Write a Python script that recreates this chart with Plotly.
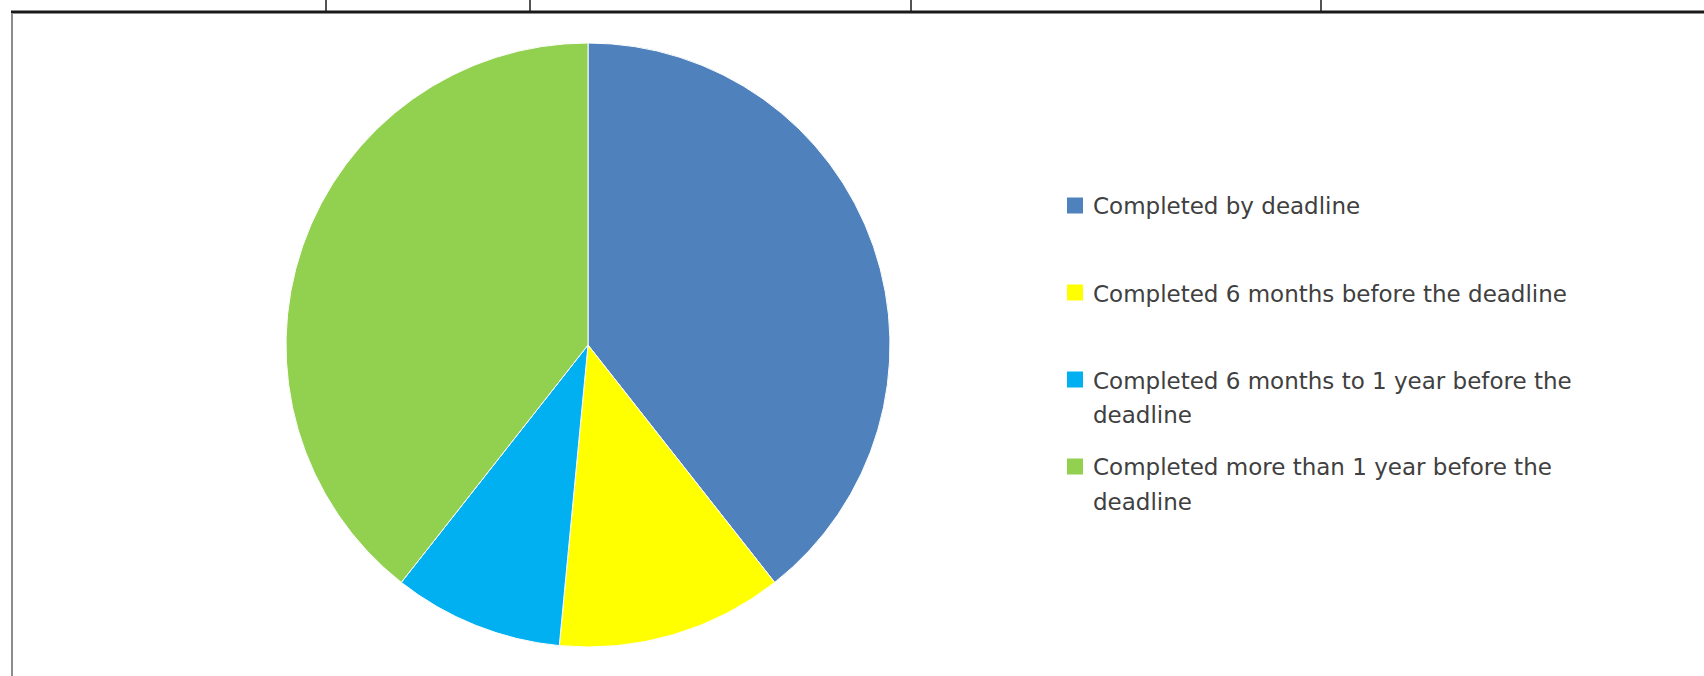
import textwrap
import plotly.graph_objects as go

# ---- data ----
labels = [
    "Completed by deadline",
    "Completed 6 months before the deadline",
    "Completed 6 months to 1 year before the deadline",
    "Completed more than 1 year before the deadline",
]
values = [13, 4, 3, 13]
colors = ["#4F81BD", "#FFFF00", "#00B0F0", "#92D050"]

W, H = 1704, 676


def px(x):
    return x / W


def py(y):
    return 1 - y / H


fig = go.Figure()
fig.add_trace(go.Pie(
    labels=labels,
    values=values,
    sort=False,
    direction="clockwise",
    rotation=0,
    marker=dict(colors=colors, line=dict(color="#ffffff", width=1)),
    textinfo="none",
    hoverinfo="label+value+percent",
    domain=dict(x=[px(286), px(890)], y=[py(647), py(43)]),
    showlegend=False,
))

shapes = []
annotations = []

# custom legend (Excel-like layout)
leg_x_marker = 1067
leg_size = 16
leg_x_text = 1091
item_y0 = 205.5
item_pitch = 87
line_pitch = 34
for i, (lab, col) in enumerate(zip(labels, colors)):
    yc = item_y0 + i * item_pitch
    shapes.append(dict(
        type="rect", xref="paper", yref="paper",
        x0=px(leg_x_marker), x1=px(leg_x_marker + leg_size),
        y0=py(yc + leg_size / 2), y1=py(yc - leg_size / 2),
        fillcolor=col, line=dict(width=0),
    ))
    for j, line in enumerate(textwrap.wrap(lab, 40)):
        annotations.append(dict(
            xref="paper", yref="paper", x=px(leg_x_text), y=py(yc + 1 + j * line_pitch),
            text=line, showarrow=False, xanchor="left", yanchor="middle",
            font=dict(family="DejaVu Sans", size=23, color="#404040"),
        ))

# table / frame lines from the surrounding document
shapes.append(dict(type="line", xref="paper", yref="paper",
                   x0=px(11), x1=1, y0=py(12), y1=py(12),
                   line=dict(color="#1a1a1a", width=3)))
shapes.append(dict(type="line", xref="paper", yref="paper",
                   x0=px(12), x1=px(12), y0=py(13), y1=0,
                   line=dict(color="#8c8c8c", width=2)))
for xs in [326, 530, 911, 1321]:
    shapes.append(dict(type="line", xref="paper", yref="paper",
                       x0=px(xs), x1=px(xs), y0=1, y1=py(11),
                       line=dict(color="#1a1a1a", width=1.5)))

fig.update_layout(
    width=W, height=H,
    margin=dict(l=0, r=0, t=0, b=0),
    paper_bgcolor="#ffffff",
    plot_bgcolor="#ffffff",
    shapes=shapes,
    annotations=annotations,
    showlegend=False,
)

fig.write_html(
    "out.html",
    config={"displayModeBar": False},
    post_script="document.body.style.margin='0';document.body.style.overflow='hidden';",
)
